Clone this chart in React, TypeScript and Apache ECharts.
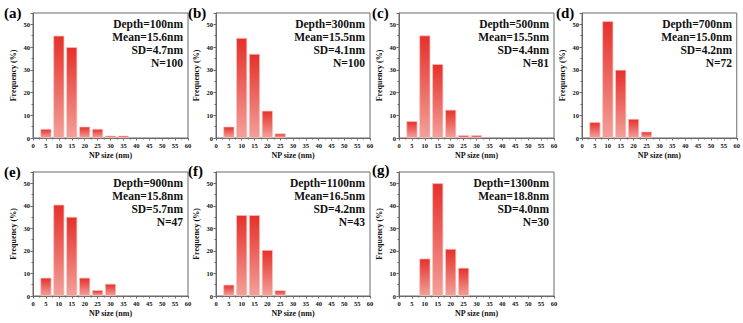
import React, { useEffect, useRef } from "react";
import * as echarts from "echarts";

// ---- data ----
const binsA = [5, 10, 15, 20, 25, 30, 35];
const freqA = [4, 45, 40, 5, 4, 1, 1];
const binsB = [5, 10, 15, 20, 25];
const freqB = [5, 44, 37, 12, 2];
const binsC = [5, 10, 15, 20, 25, 30];
const freqC = [7.4, 45.1, 32.5, 12.4, 1.2, 1.2];
const binsD = [5, 10, 15, 20, 25];
const freqD = [7, 51.4, 30, 8.4, 2.8];
const binsE = [5, 10, 15, 20, 25, 30];
const freqE = [8.1, 40.5, 35.1, 8.1, 2.6, 5.4];
const binsF = [5, 10, 15, 20, 25];
const freqF = [5, 35.9, 35.9, 20.4, 2.5];
const binsG = [10, 15, 20, 25];
const freqG = [16.6, 50, 20.9, 12.5];

const panelLabels = ["(a)", "(b)", "(c)", "(d)", "(e)", "(f)", "(g)"];
const depths = ["Depth=100nm", "Depth=300nm", "Depth=500nm", "Depth=700nm", "Depth=900nm", "Depth=1100nm", "Depth=1300nm"];
const means = ["Mean=15.6nm", "Mean=15.5nm", "Mean=15.5nm", "Mean=15.0nm", "Mean=15.8nm", "Mean=16.5nm", "Mean=18.8nm"];
const sds = ["SD=4.7nm", "SD=4.1nm", "SD=4.4nm", "SD=4.2nm", "SD=5.7nm", "SD=4.2nm", "SD=4.0nm"];
const counts = ["N=100", "N=100", "N=81", "N=72", "N=47", "N=43", "N=30"];

const xAxisName = "NP size (nm)";
const yAxisName = "Frequency (%)";
const xMin = 0, xMax = 60, xInterval = 5;
const yMin = 0, yMax = 55, yInterval = 10;

const allBins = [binsA, binsB, binsC, binsD, binsE, binsF, binsG];
const allFreq = [freqA, freqB, freqC, freqD, freqE, freqF, freqG];

// ---- layout ----
const gridBoxes = [
  { left: 33, top: 13, width: 155, height: 125 },
  { left: 216, top: 13, width: 154, height: 125 },
  { left: 399, top: 13, width: 155, height: 125 },
  { left: 582, top: 13, width: 155, height: 125 },
  { left: 33, top: 172, width: 155, height: 124 },
  { left: 216, top: 172, width: 154, height: 124 },
  { left: 399, top: 172, width: 155, height: 124 },
];
const labelPos = [
  { x: 4, y: 13 },
  { x: 188, y: 13 },
  { x: 372, y: 13 },
  { x: 556, y: 13 },
  { x: 4, y: 172 },
  { x: 188, y: 171 },
  { x: 372, y: 170 },
];

const FONT = "'Liberation Serif', 'Times New Roman', serif";
const AXIS_COLOR = "#6a6a6a";

export default function App() {
  const ref = useRef<HTMLDivElement>(null);
  useEffect(() => {
    document.body.style.margin = "0";
    if (!ref.current) return;
    const chart = echarts.init(ref.current, null, { renderer: "svg" });

    const grids = gridBoxes.map((g) => ({
      ...g,
      show: true,
      borderColor: AXIS_COLOR,
      borderWidth: 1,
      backgroundColor: "transparent",
    }));

    const xAxes = gridBoxes.map((_, i) => ({
      type: "value",
      gridIndex: i,
      min: xMin,
      max: xMax,
      interval: xInterval,
      name: xAxisName,
      nameLocation: "middle",
      nameGap: 13,
      nameTextStyle: { fontFamily: FONT, fontWeight: "bold", fontSize: 8, color: "#111" },
      axisLine: { show: true, lineStyle: { color: AXIS_COLOR, width: 1 } },
      axisTick: { show: true, inside: false, length: 2.5, lineStyle: { color: AXIS_COLOR } },
      minorTick: { show: true, splitNumber: 2, length: 1.5, lineStyle: { color: AXIS_COLOR } },
      axisLabel: { fontFamily: FONT, fontWeight: "bold", fontSize: 6.5, color: "#111", margin: 4 },
      splitLine: { show: false },
    }));

    const yAxes = gridBoxes.map((_, i) => ({
      type: "value",
      gridIndex: i,
      min: yMin,
      max: yMax,
      interval: yInterval,
      name: yAxisName,
      nameLocation: "middle",
      nameGap: 16,
      nameTextStyle: { fontFamily: FONT, fontWeight: "bold", fontSize: 8, color: "#111" },
      axisLine: { show: true, lineStyle: { color: AXIS_COLOR, width: 1 } },
      axisTick: { show: true, inside: false, length: 2.5, lineStyle: { color: AXIS_COLOR } },
      minorTick: { show: true, splitNumber: 2, length: 1.5, lineStyle: { color: AXIS_COLOR } },
      axisLabel: {
        fontFamily: FONT,
        fontWeight: "bold",
        fontSize: 6.5,
        color: "#111",
        margin: 3,
        showMaxLabel: false,
      },
      splitLine: { show: false },
    }));

    const series = allBins.map((bins, i) => ({
      type: "bar",
      xAxisIndex: i,
      yAxisIndex: i,
      barWidth: 11,
      data: bins.map((b, j) => [b, allFreq[i][j]]),
      itemStyle: {
        color: new echarts.graphic.LinearGradient(0, 0, 0, 1, [
          { offset: 0, color: "#e6302a" },
          { offset: 1, color: "#f3a09a" },
        ]),
        borderColor: "#f6c4bf",
        borderWidth: 0.7,
      },
    }));

    const graphics: any[] = [];
    gridBoxes.forEach((g, i) => {
      graphics.push({
        type: "text",
        x: labelPos[i].x,
        y: labelPos[i].y,
        style: {
          text: panelLabels[i],
          font: `bold 15px ${FONT}`,
          fill: "#000",
          verticalAlign: "middle",
          align: "left",
        },
      });
      graphics.push({
        type: "text",
        x: g.left + g.width - 5,
        y: g.top + 5,
        style: {
          text: [depths[i], means[i], sds[i], counts[i]].join("\n"),
          font: `bold 11.5px ${FONT}`,
          lineHeight: 12.8,
          fill: "#111",
          align: "right",
          verticalAlign: "top",
        },
      });
    });

    chart.setOption({
      animation: false,
      backgroundColor: "#fff",
      grid: grids,
      xAxis: xAxes,
      yAxis: yAxes,
      series,
      graphic: graphics,
    } as any);

    return () => chart.dispose();
  }, []);

  return <div ref={ref} style={{ width: 743, height: 323 }} />;
}
